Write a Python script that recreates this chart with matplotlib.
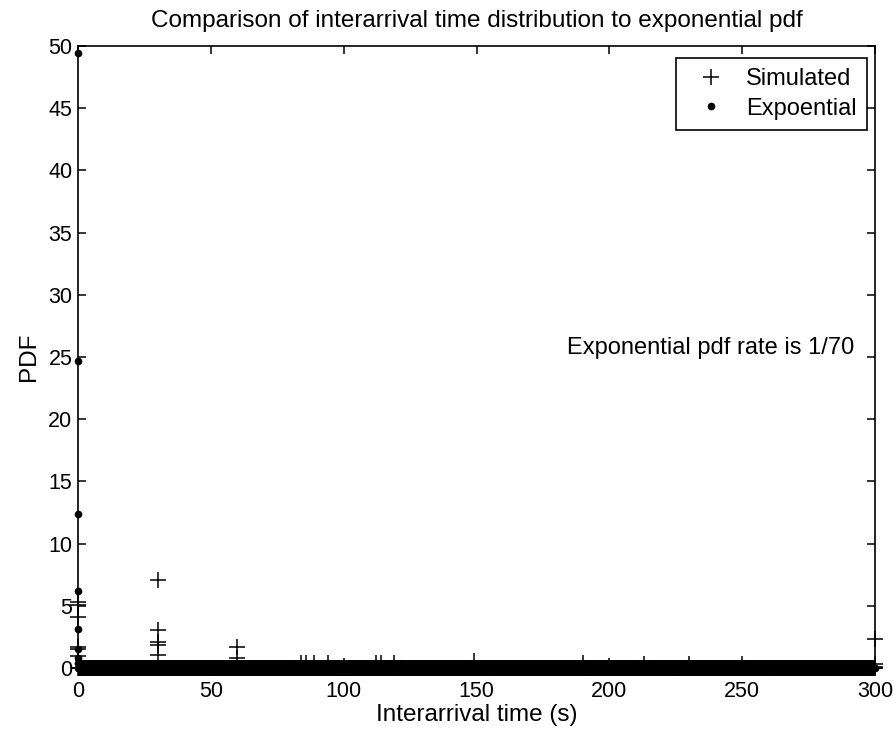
import matplotlib.pyplot as plt
import numpy as np

plt.rcParams['font.family'] = ['Liberation Sans', 'DejaVu Sans']

# time bins (s) along the whole range; most bins read as ~0 pdf
bin_t = np.arange(0, 300.01, 0.25)
bin_zero = np.zeros(len(bin_t))

# simulated points that stand off the baseline
sim_t = [0, 0, 0, 0, 0, 0,
         30, 30, 30, 30, 30,
         60, 60,
         84, 86, 89, 94, 100, 112, 114, 119, 149, 190, 200, 213, 230, 250,
         300, 300, 300]
sim_pdf = [5.3, 5.05, 4.1, 1.7, 1.5, 0.95,
           7.05, 3.05, 2.1, 1.85, 1.05,
           1.7, 0.8,
           0.4, 0.4, 0.4, 0.4, 0.2, 0.4, 0.4, 0.4, 0.6, 0.4, 0.2, 0.3, 0.3, 0.3,
           2.3, 0.3, 0.1]

# exponential pdf points off the baseline
exp_t = [0, 0, 0, 0, 0, 0, 0, 0]
exp_pdf = [49.4, 24.7, 12.35, 6.2, 3.1, 1.55, 0.78, 0.39]

fig = plt.figure(figsize=(8.93, 7.37), dpi=100)
ax = fig.add_axes([0.0873, 0.0936, 0.8927, 0.8440])

ax.plot(bin_t, bin_zero, '+', color='black', ms=11.5, mew=1.1, clip_on=False)
ax.plot(bin_t, bin_zero, '.', color='black', ms=9, clip_on=False)
ax.plot(sim_t, sim_pdf, '+', color='black', ms=11.5, mew=1.1, clip_on=False,
        label='Simulated')
ax.plot(exp_t, exp_pdf, '.', color='black', ms=9, clip_on=False,
        label='Expoential')

ax.set_xlim(0, 300)
ax.set_ylim(0, 50)
ax.set_xticks([0, 50, 100, 150, 200, 250, 300])
ax.set_yticks([0, 5, 10, 15, 20, 25, 30, 35, 40, 45, 50])
ax.tick_params(direction='in', length=6, width=1.1, top=True, right=True,
               labelsize=15.5, pad=4)
ax.tick_params(axis='x', pad=9)
for sp in ax.spines.values():
    sp.set_linewidth(1.2)
    sp.set_zorder(3)

ax.set_title('Comparison of interarrival time distribution to exponential pdf',
             fontsize=17.5, pad=14)
ax.set_xlabel('Interarrival time (s)', fontsize=17.5, labelpad=2)
ax.set_ylabel('PDF', fontsize=17.5, labelpad=6)
ax.text(184, 25.7, 'Exponential pdf rate is 1/70', fontsize=17, va='center')

leg = ax.legend(loc='upper right', bbox_to_anchor=(0.99, 0.981),
                borderaxespad=0, fontsize=17, frameon=True, fancybox=False,
                edgecolor='black', framealpha=1, handletextpad=0.5,
                handlelength=2.0, borderpad=0.45, labelspacing=0.3)
leg.get_frame().set_linewidth(1.2)

fig.savefig('out.png', dpi=100)
